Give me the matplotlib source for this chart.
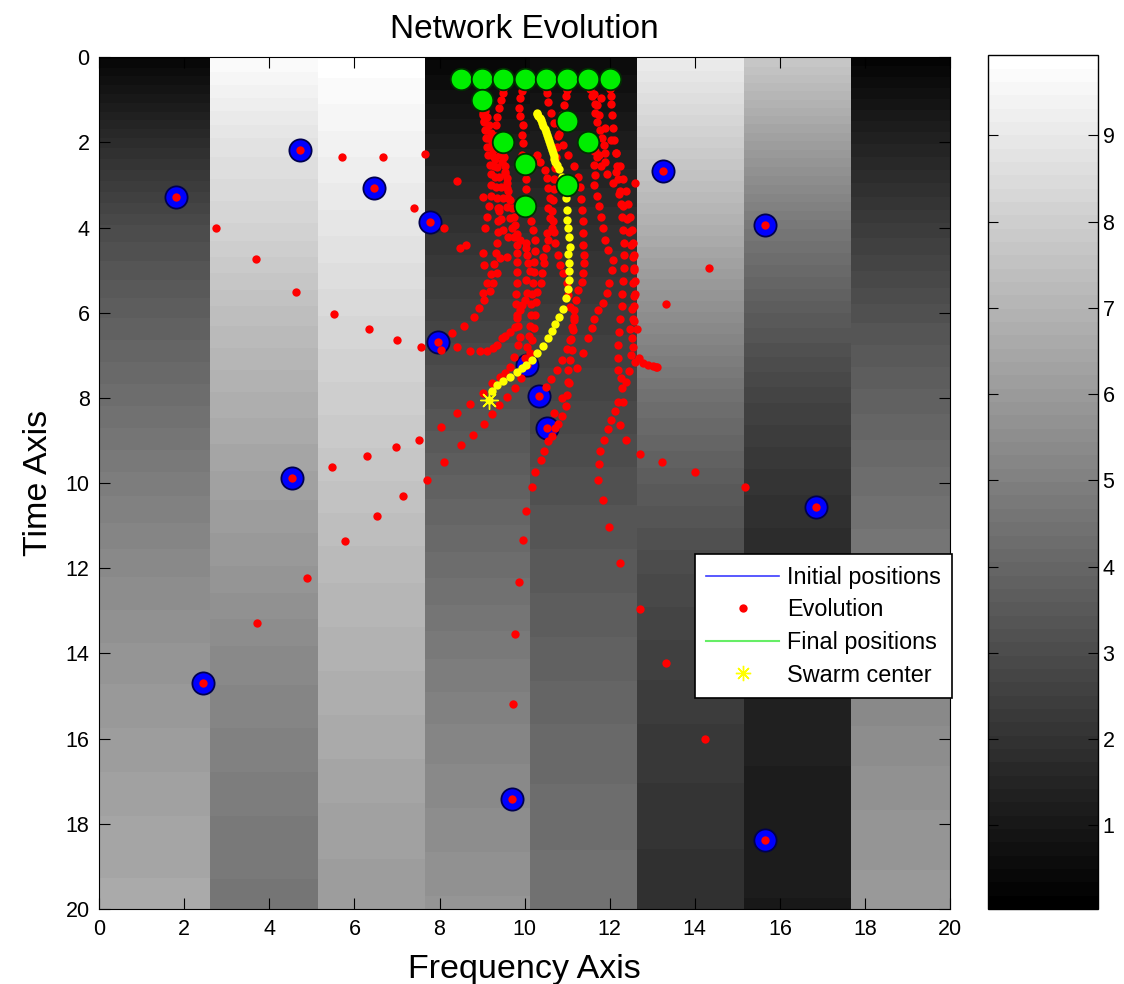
import numpy as np
import matplotlib
matplotlib.use('Agg')
import matplotlib.pyplot as plt
from matplotlib.lines import Line2D

plt.rcParams['font.family'] = ['Liberation Sans', 'DejaVu Sans']

# background field: 8 frequency bands, sampled every 2 time units (t = 0..20)
band_edges = [0, 2.6, 5.14, 7.65, 10.12, 12.64, 15.16, 17.68, 20]
band_values = np.array([
    [0.3, 9.8, 9.9, 0.3, 0.5, 9.2, 7.8, 0.2],
    [1.8, 8.8, 9.4, 1.2, 1.2, 8.0, 6.2, 1.4],
    [3.0, 8.2, 8.9, 2.0, 1.9, 6.8, 4.7, 2.4],
    [3.7, 7.4, 8.4, 2.6, 2.4, 5.6, 3.6, 3.2],
    [4.3, 6.8, 8.0, 3.2, 2.8, 4.4, 2.7, 3.8],
    [4.9, 6.3, 7.6, 3.8, 3.2, 3.6, 2.1, 4.3],
    [5.4, 5.9, 7.2, 4.3, 3.5, 3.0, 1.7, 4.7],
    [5.8, 5.4, 6.9, 4.8, 3.8, 2.6, 1.5, 5.1],
    [6.1, 5.1, 6.6, 5.2, 4.1, 2.3, 1.3, 5.5],
    [6.4, 4.8, 6.3, 5.5, 4.3, 2.1, 1.2, 5.8],
    [6.6, 4.6, 6.1, 5.8, 4.5, 1.9, 1.1, 6.0],
])

# initial and final node positions (frequency, time)
init_x = [1.80, 4.72, 6.46, 7.78, 13.26, 15.65, 7.96, 4.54, 16.85, 2.43, 9.70, 15.65, 10.06, 10.34, 10.52]
init_y = [3.28, 2.18, 3.07, 3.87, 2.67, 3.94, 6.69, 9.89, 10.56, 14.69, 17.42, 18.38, 7.23, 7.96, 8.71]
final_x = [8.5, 9.0, 9.5, 10.0, 10.5, 11.0, 11.5, 12.0, 9.0, 11.0, 9.5, 11.5, 10.0, 11.0, 10.0]
final_y = [0.5, 0.5, 0.5, 0.5, 0.5, 0.5, 0.5, 0.5, 1.0, 1.5, 2.0, 2.0, 2.5, 3.0, 3.5]

# node trajectories, one list of (frequency, time) per node
paths = [
    [(1.80, 3.28), (2.75, 4.01), (3.68, 4.73), (4.62, 5.50), (5.52, 6.04), (6.33, 6.39), (7.00, 6.65),
     (7.56, 6.81), (8.03, 6.88), (8.42, 6.81), (8.72, 6.89), (8.94, 6.89), (9.11, 6.89), (9.25, 6.83),
     (9.36, 6.76), (9.46, 6.60), (9.54, 6.55), (9.66, 6.44), (9.77, 6.33), (9.81, 6.13), (9.89, 5.93),
     (9.93, 5.82), (10.01, 5.70), (10.06, 5.54), (10.03, 5.23), (10.13, 5.03), (10.09, 4.84),
     (10.05, 4.64), (10.03, 4.49), (10.03, 4.37), (9.89, 4.29), (9.83, 4.15), (9.78, 3.95),
     (9.74, 3.75), (9.70, 3.55), (9.66, 3.35), (9.62, 3.15), (9.58, 2.95), (9.55, 2.75), (9.53, 2.55),
     (9.51, 2.35), (9.50, 2.20)],
    [(4.72, 2.18), (5.70, 2.35), (6.67, 2.35), (7.65, 2.26), (8.42, 2.90), (9.01, 3.27), (9.38, 3.53),
     (9.48, 3.30), (9.45, 3.05), (9.40, 2.80), (9.36, 2.58), (9.30, 2.38), (9.26, 2.18), (9.23, 1.98),
     (9.20, 1.78), (9.16, 1.58), (9.12, 1.40), (9.08, 1.25), (9.05, 1.12)],
    [(6.46, 3.07), (7.39, 3.54), (8.11, 4.00), (8.48, 4.49), (9.07, 4.02), (9.12, 3.75), (9.17, 3.50),
     (9.20, 3.25), (9.22, 3.00), (9.20, 2.75), (9.18, 2.52), (9.15, 2.30), (9.12, 2.10), (9.10, 1.90),
     (9.08, 1.70), (9.05, 1.50), (9.03, 1.30), (9.01, 1.12)],
    [(7.78, 3.87), (8.62, 4.41), (9.01, 4.60), (9.05, 4.88), (9.01, 5.54), (9.12, 5.30), (9.22, 5.08),
     (9.28, 4.85), (9.32, 4.60), (9.35, 4.35), (9.37, 4.10), (9.38, 3.85), (9.40, 3.62)],
    [(13.26, 2.67), (12.60, 2.95), (12.15, 2.70), (11.90, 2.45), (11.75, 2.30), (11.65, 2.20),
     (11.58, 2.12)],
    [(15.65, 3.94), (14.34, 4.94), (13.32, 5.79), (12.64, 6.39), (12.47, 6.39), (12.55, 6.81),
     (12.60, 7.15), (12.70, 7.07), (12.79, 7.19), (12.91, 7.23), (13.01, 7.25), (13.08, 7.27),
     (13.11, 7.28), (12.58, 6.20), (12.52, 5.90), (12.56, 5.60), (12.55, 5.30), (12.58, 5.00),
     (12.55, 4.70), (12.50, 4.40), (12.45, 4.10), (12.40, 3.80), (12.32, 3.50), (12.22, 3.20),
     (12.08, 2.95), (11.93, 2.75), (11.80, 2.55), (11.70, 2.35), (11.62, 2.20)],
    [(7.96, 6.69), (8.29, 6.47), (8.58, 6.30), (8.80, 6.09), (8.93, 5.88), (9.05, 5.70), (9.19, 5.49),
     (9.26, 5.31), (9.34, 5.07), (9.42, 4.72), (9.59, 4.68), (9.62, 4.21), (9.50, 4.06), (9.45, 3.80),
     (9.40, 3.55), (9.36, 3.30), (9.33, 3.05), (9.30, 2.80), (9.28, 2.55), (9.25, 2.32), (9.20, 2.10),
     (9.15, 1.90), (9.10, 1.70), (9.05, 1.52), (9.02, 1.35)],
    [(4.54, 9.89), (5.48, 9.62), (6.29, 9.37), (6.97, 9.16), (7.52, 8.99), (8.03, 8.68), (8.42, 8.35),
     (8.72, 8.13), (9.03, 7.89), (9.23, 7.66), (9.42, 7.50), (9.54, 7.42), (9.66, 7.27), (9.75, 7.03),
     (9.85, 6.76), (9.89, 6.56), (9.85, 6.30), (9.82, 6.05), (9.80, 5.80), (9.80, 5.55), (9.81, 5.30),
     (9.82, 5.05), (9.82, 4.80), (9.82, 4.60), (9.81, 4.41), (9.76, 4.21), (9.70, 4.02), (9.66, 3.78),
     (9.59, 3.51), (9.62, 3.31), (9.59, 3.08), (9.59, 2.84), (9.54, 2.69), (9.46, 2.45), (9.42, 2.29),
     (9.30, 1.85), (9.32, 1.60), (9.35, 1.40), (9.40, 1.20), (9.45, 1.00), (9.48, 0.85), (9.50, 0.75)],
    [(16.85, 10.56), (15.19, 10.09), (14.00, 9.75), (13.22, 9.50), (12.72, 9.32), (12.38, 8.99),
     (12.24, 8.64), (12.32, 8.10), (12.38, 7.62), (12.46, 7.36), (12.50, 7.00), (12.52, 6.60),
     (12.55, 6.15), (12.58, 5.85), (12.60, 5.55), (12.60, 5.25), (12.58, 4.95), (12.57, 4.65),
     (12.55, 4.35), (12.52, 4.05), (12.48, 3.75), (12.43, 3.45), (12.38, 3.15), (12.32, 2.85),
     (12.25, 2.55), (12.15, 2.25), (12.02, 1.95), (11.88, 1.65), (11.75, 1.35), (11.65, 1.10),
     (11.58, 0.90), (11.54, 0.75), (11.52, 0.65)],
    [(2.43, 14.69), (3.72, 13.28), (4.88, 12.22), (5.78, 11.37), (6.54, 10.77), (7.14, 10.30),
     (7.70, 9.93), (8.11, 9.50), (8.50, 9.11), (8.79, 8.86), (9.05, 8.60), (9.23, 8.38), (9.40, 8.17),
     (9.58, 7.97), (9.77, 7.77), (9.92, 7.52), (10.00, 7.05), (10.05, 6.80), (10.10, 6.55),
     (10.12, 6.30), (10.15, 6.05), (10.16, 5.80), (10.18, 5.55), (10.20, 5.30), (10.22, 5.05),
     (10.23, 4.80), (10.24, 4.55), (10.24, 4.30), (10.20, 4.05), (10.14, 3.85), (10.04, 3.10),
     (10.03, 2.85), (10.01, 2.61), (9.97, 2.45), (9.93, 2.29), (9.97, 2.02), (9.93, 1.82), (9.97, 1.59),
     (9.89, 1.39), (9.87, 1.20), (9.89, 0.96), (9.93, 0.80), (9.97, 0.70)],
    [(9.70, 17.42), (9.73, 15.19), (9.78, 13.54), (9.86, 12.31), (9.95, 11.33), (10.03, 10.65),
     (10.17, 10.09), (10.24, 9.75), (10.38, 9.46), (10.46, 9.24), (10.56, 9.02), (10.64, 8.89),
     (10.71, 8.71), (10.79, 8.60), (10.89, 8.42), (10.97, 8.19), (11.00, 7.92), (11.02, 7.62),
     (11.03, 7.34), (11.07, 7.11), (11.11, 6.87), (11.07, 6.64), (11.11, 6.33), (11.15, 6.09),
     (11.07, 5.86), (11.03, 5.58), (10.99, 5.31), (10.91, 5.07), (10.83, 4.88), (10.79, 4.64),
     (10.71, 4.37), (10.68, 4.10), (10.66, 3.85), (10.65, 3.60), (10.66, 3.35), (10.68, 3.10),
     (10.70, 2.85), (10.72, 2.60), (10.74, 2.35), (10.76, 2.10), (10.79, 1.85), (10.83, 1.60),
     (10.88, 1.35), (10.93, 1.12), (10.97, 0.92), (10.99, 0.78)],
    [(15.65, 18.38), (14.25, 16.00), (13.32, 14.22), (12.72, 12.95), (12.25, 11.88), (11.99, 11.02),
     (11.84, 10.39), (11.73, 9.92), (11.74, 9.54), (11.78, 9.24), (11.87, 8.98), (11.95, 8.72),
     (12.03, 8.52), (12.13, 8.31), (12.20, 8.10), (12.28, 7.77), (12.26, 7.53), (12.20, 7.35),
     (12.20, 7.06), (12.20, 6.76), (12.22, 6.45), (12.25, 6.15), (12.28, 5.85), (12.30, 5.55),
     (12.32, 5.25), (12.33, 4.95), (12.34, 4.65), (12.33, 4.35), (12.32, 4.05), (12.30, 3.75),
     (12.27, 3.45), (12.24, 3.15), (12.20, 2.85), (12.17, 2.55), (12.14, 2.25), (12.11, 1.95),
     (12.08, 1.65), (12.06, 1.35), (12.04, 1.10), (12.02, 0.90), (12.01, 0.75)],
    [(10.06, 7.23), (10.12, 6.95), (10.18, 6.65), (10.22, 6.35), (10.25, 6.05), (10.27, 5.75),
     (10.28, 5.50), (10.38, 5.31), (10.40, 5.07), (10.46, 4.84), (10.44, 4.68), (10.50, 4.49),
     (10.56, 4.29), (10.52, 4.13), (10.64, 4.02), (10.60, 3.78), (10.56, 3.55), (10.60, 3.31),
     (10.56, 3.08), (10.52, 2.84), (10.48, 2.65), (10.36, 2.45), (10.28, 2.29), (10.18, 2.40),
     (10.10, 2.45)],
    [(10.34, 7.96), (10.50, 7.75), (10.62, 7.55), (10.75, 7.35), (10.88, 7.10), (11.00, 6.85),
     (11.08, 6.62), (11.13, 6.40), (11.15, 6.17), (11.16, 5.93), (11.21, 5.70), (11.26, 5.47),
     (11.34, 5.27), (11.38, 5.06), (11.40, 4.84), (11.40, 4.64), (11.37, 4.41), (11.38, 4.13),
     (11.38, 3.85), (11.36, 3.58), (11.33, 3.32), (11.30, 3.05), (11.25, 2.80), (11.15, 2.55),
     (11.02, 2.30), (10.90, 2.05), (10.80, 1.80), (10.70, 1.55), (10.62, 1.30), (10.56, 1.05),
     (10.52, 0.85), (10.51, 0.72)],
    [(10.52, 8.71), (10.70, 8.35), (10.88, 8.00), (11.05, 7.65), (11.22, 7.30), (11.38, 6.95),
     (11.50, 6.60), (11.58, 6.35), (11.63, 6.15), (11.73, 5.93), (11.84, 5.78), (11.93, 5.54),
     (11.98, 5.31), (12.05, 5.00), (12.07, 4.76), (11.97, 4.53), (11.89, 4.29), (11.85, 4.00),
     (11.80, 3.75), (11.75, 3.50), (11.70, 3.25), (11.63, 3.00), (11.66, 2.76), (11.62, 2.53),
     (11.89, 2.25), (11.87, 2.06), (11.81, 1.90), (11.77, 1.71), (11.70, 1.51), (11.66, 1.32),
     (11.70, 1.12), (11.79, 0.95), (11.62, 0.87)],
]

# swarm center path (mean node position per iteration)
center_x = [9.17, 9.23, 9.36, 9.50, 9.66, 9.81, 9.93, 10.03, 10.17, 10.28, 10.43, 10.54, 10.64,
            10.71, 10.81, 10.91, 10.97, 11.01, 11.04, 11.04, 11.05, 11.03, 11.06, 11.04, 11.03,
            11.00, 10.99, 10.97, 10.94, 10.88, 10.80, 10.75, 10.72, 10.70, 10.68, 10.66, 10.64,
            10.62, 10.60, 10.57, 10.55, 10.52, 10.50, 10.47, 10.44, 10.41, 10.38, 10.35, 10.32,
            10.30, 10.28]
center_y = [8.05, 7.84, 7.70, 7.60, 7.50, 7.38, 7.30, 7.23, 7.11, 6.94, 6.77, 6.60, 6.43,
            6.26, 6.09, 5.91, 5.66, 5.45, 5.23, 5.03, 4.84, 4.62, 4.45, 4.21, 4.02,
            3.82, 3.59, 3.31, 3.05, 2.80, 2.62, 2.53, 2.45, 2.38, 2.31, 2.24, 2.17,
            2.10, 2.03, 1.96, 1.89, 1.82, 1.75, 1.68, 1.61, 1.54, 1.48, 1.42, 1.37,
            1.34, 1.32]

fig = plt.figure(figsize=(11.24, 9.84), dpi=100)
ax = fig.add_axes([0.0883, 0.0762, 0.7569, 0.8656])
cax = fig.add_axes([0.879, 0.0762, 0.0976, 0.8676])

cmap = plt.get_cmap('gray', 64)
vmin, vmax = 0.03, 9.93
for i in range(len(band_edges) - 1):
    im = ax.imshow(band_values[:, i:i + 1], cmap=cmap, vmin=vmin, vmax=vmax,
                   extent=(band_edges[i], band_edges[i + 1], 21, -1),
                   interpolation='bilinear', interpolation_stage='data', aspect='auto', zorder=0)

ax.plot(init_x, init_y, 'o', ms=16, mfc='blue', mec='#000050', mew=1.3, ls='none', zorder=2)
for p in paths:
    px, py = zip(*p)
    ax.plot(px, py, 'o', ms=6.0, color='red', mec='none', ls='none', zorder=3)
ax.plot(center_x, center_y, 'o', ms=6.0, color='yellow', mec='none', ls='none', zorder=4)
ax.plot(center_x[0], center_y[0], marker=(8, 2, 0), ms=13, color='yellow', mew=1.0, ls='none', zorder=4)
ax.plot(final_x, final_y, 'o', ms=15.5, mfc='#00ee00', mec='#003000', mew=1.3, ls='none', zorder=5)

ax.set_xlim(0, 20)
ax.set_ylim(20, 0)
ax.set_xticks(range(0, 21, 2))
ax.set_yticks(range(0, 21, 2))
ax.tick_params(direction='in', length=8, labelsize=15.5, top=True, right=True, pad=7)
ax.set_title('Network Evolution', fontsize=24, pad=14)
ax.set_xlabel('Frequency Axis', fontsize=24.5, labelpad=10)
ax.set_ylabel('Time Axis', fontsize=24.5, labelpad=8)

handles = [
    Line2D([], [], color='#3c3cff', lw=1.2),
    Line2D([], [], color='red', marker='o', ms=6.0, mec='none', ls='none'),
    Line2D([], [], color='#66ee66', lw=1.5),
    Line2D([], [], color='yellow', marker=(8, 2, 0), ms=11, ls='none'),
]
leg = ax.legend(handles, ['Initial positions', 'Evolution', 'Final positions', 'Swarm center'],
                loc='upper left', bbox_to_anchor=(0.700, 0.4165), fontsize=16.8,
                fancybox=False, framealpha=1, edgecolor='black', borderpad=0.5,
                labelspacing=0.41, handlelength=3.1, handletextpad=0.35, borderaxespad=0)
leg.get_frame().set_linewidth(1.2)

cb = fig.colorbar(im, cax=cax)
cb.set_ticks(range(1, 10))
cb.ax.tick_params(direction='in', length=7, labelsize=15.5, left=True, right=True)
cb.outline.set_linewidth(1)

fig.savefig('out.png', dpi=100)
